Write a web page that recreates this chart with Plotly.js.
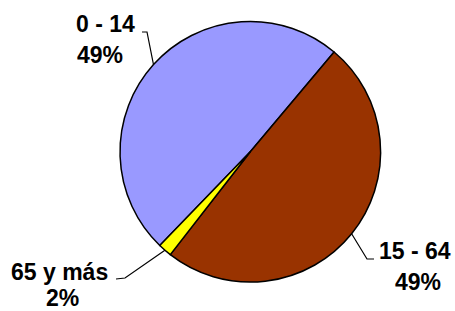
<!DOCTYPE html>
<html>
<head>
<meta charset="utf-8">
<script src="https://cdn.plot.ly/plotly-3.0.1.min.js"></script>
<style>html,body{margin:0;padding:0;background:#fff;}#chart{width:455px;height:311px;}</style>
</head>
<body>
<div id="chart"></div>
<script>
// Data
var categories = ['0 - 14', '15 - 64', '65 y más'];
var values = [48.9, 49.4, 1.7];
var colors = ['#9999FF', '#993300', '#FFFF00'];

// Layout constants (pixels)
var W = 455, H = 311;
var CX = 250.3, CY = 151.8, R = 130.3;
var ROT = -136; // start angle of first slice (deg, clockwise from 12 o'clock)

// label styling: elbow / end of leader and text centres (pixels)
var labelStyle = [
  {elbow: [147, 32], end: [142, 32], t1: [105, 23.5], t2: [100, 55]},
  {elbow: [367, 259], end: [374, 259], t1: [414.5, 250.8], t2: [418, 281.8]},
  {elbow: [125, 278], end: [116, 279], t1: [59.7, 271.8], t2: [62.5, 297.5]}
];

function px(x) { return x / W; }
function py(y) { return 1 - y / H; }

var total = values.reduce(function (a, b) { return a + b; }, 0);
var shapes = [], annotations = [];
var acc = ROT;
values.forEach(function (v, i) {
  var span = v / total * 360;
  var mid = (acc + span / 2) * Math.PI / 180;
  acc += span;
  var ex = CX + R * Math.sin(mid), ey = CY - R * Math.cos(mid);
  var s = labelStyle[i];
  shapes.push({
    type: 'path', xref: 'paper', yref: 'paper',
    path: 'M' + px(ex) + ',' + py(ey) + ' L' + px(s.elbow[0]) + ',' + py(s.elbow[1]) + ' L' + px(s.end[0]) + ',' + py(s.end[1]),
    line: {color: '#000', width: 1.2}
  });
  var pct = Math.round(v / total * 100) + '%';
  [[categories[i], s.t1], [pct, s.t2]].forEach(function (t) {
    annotations.push({
      text: t[0], xref: 'paper', yref: 'paper',
      x: px(t[1][0]), y: py(t[1][1]), xanchor: 'center', yanchor: 'middle',
      showarrow: false, borderpad: 0,
      font: {family: 'Arial, Liberation Sans, sans-serif', size: 23, color: '#000', weight: 'bold'}
    });
  });
});

var trace = {
  type: 'pie',
  labels: categories,
  values: values,
  sort: false,
  direction: 'clockwise',
  rotation: ROT,
  textinfo: 'none',
  hoverinfo: 'label+percent',
  marker: {colors: colors, line: {color: '#000', width: 1.5}},
  domain: {x: [(CX - R) / W, (CX + R) / W], y: [1 - (CY + R) / H, 1 - (CY - R) / H]}
};

var layout = {
  width: W, height: H,
  margin: {l: 0, r: 0, t: 0, b: 0},
  showlegend: false,
  paper_bgcolor: '#fff',
  shapes: shapes,
  annotations: annotations
};

Plotly.newPlot('chart', [trace], layout, {displayModeBar: false, staticPlot: true});
</script>
</body>
</html>
